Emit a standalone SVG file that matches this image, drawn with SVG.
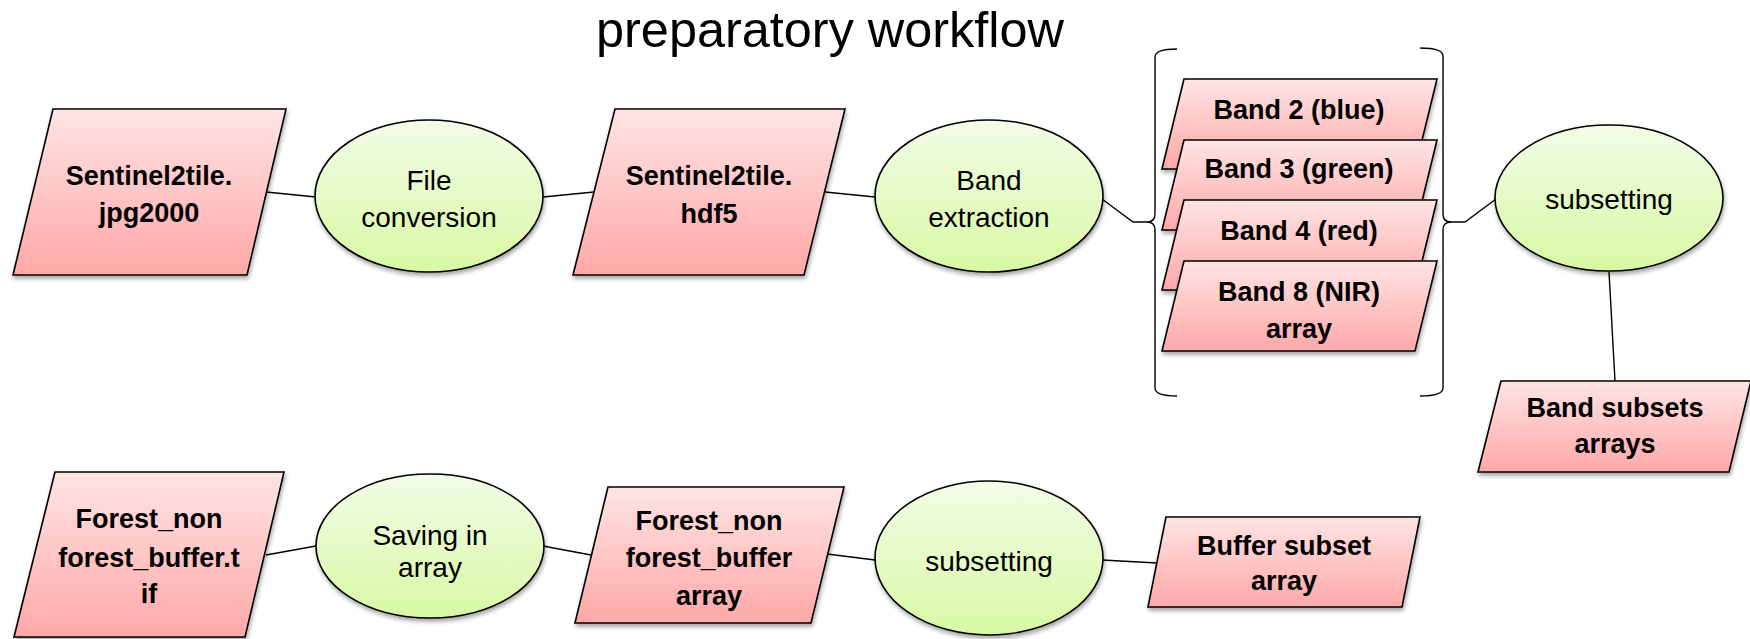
<svg xmlns="http://www.w3.org/2000/svg" width="1750" height="639" viewBox="0 0 1750 639">
<defs>
<linearGradient id="gp" x1="0" y1="0" x2="0" y2="1">
<stop offset="0" stop-color="#FFE4E4"/>
<stop offset="1" stop-color="#FFA8A8"/>
</linearGradient>
<linearGradient id="ge" x1="0" y1="0" x2="0" y2="1">
<stop offset="0" stop-color="#F3FDE8"/>
<stop offset="1" stop-color="#D8F8A4"/>
</linearGradient>
<filter id="sh" x="-10%" y="-10%" width="120%" height="130%">
<feDropShadow dx="1" dy="3" stdDeviation="2" flood-color="#000" flood-opacity="0.35"/>
</filter>
</defs>
<style>
.p{fill:url(#gp);stroke:#000;stroke-width:1.6;filter:url(#sh)}
.e{fill:url(#ge);stroke:#000;stroke-width:1.6;filter:url(#sh)}
.b{font-family:"Liberation Sans",Arial,sans-serif;font-weight:bold;font-size:27px;text-anchor:middle;fill:#000}
.r{font-family:"Liberation Sans",Arial,sans-serif;font-size:28px;text-anchor:middle;fill:#000}
.c{fill:none;stroke:#000;stroke-width:1.4}
.t{font-family:"Liberation Sans",Arial,sans-serif;font-size:50px;text-anchor:middle;fill:#000}
</style>
<text class="t" x="830" y="47" textLength="468" lengthAdjust="spacingAndGlyphs">preparatory workflow</text>
<g id="connectors">
<line class="c" x1="266" y1="192" x2="316" y2="197"/>
<line class="c" x1="543" y1="197" x2="594" y2="192"/>
<line class="c" x1="825" y1="192" x2="875" y2="197"/>
<polyline class="c" points="1102,199 1133,222 1147,222"/>
<polyline class="c" points="1450,222 1465,222 1496,199"/>
<line class="c" x1="1609" y1="272" x2="1615" y2="381"/>
<line class="c" x1="266" y1="555" x2="316" y2="546"/>
<line class="c" x1="543" y1="546" x2="591" y2="555"/>
<line class="c" x1="827" y1="554" x2="875" y2="560"/>
<line class="c" x1="1102" y1="560" x2="1157" y2="563"/>
</g>
<g id="brackets">
<path class="c" d="M1177,49 Q1155,49 1155,57 V214 Q1155,222 1147,222 Q1155,222 1155,230 V388 Q1155,396 1177,396"/>
<path class="c" d="M1420,48 Q1443,48 1443,56 V214 Q1443,222 1451,222 Q1443,222 1443,230 V388 Q1443,396 1420,396"/>
</g>
<g id="sentinel-jpg">
<polygon class="p" points="53,109 286,109 247,275 13,275"/>
<text class="b" x="149" y="185">Sentinel2tile.</text>
<text class="b" x="149" y="222">jpg2000</text>
</g>
<g id="file-conversion">
<ellipse class="e" cx="429" cy="196" rx="114" ry="76"/>
<text class="r" x="429" y="190">File</text>
<text class="r" x="429" y="227">conversion</text>
</g>
<g id="sentinel-hdf5">
<polygon class="p" points="615,109 845,109 804,275 573,275"/>
<text class="b" x="709" y="185">Sentinel2tile.</text>
<text class="b" x="709" y="223">hdf5</text>
</g>
<g id="band-extraction">
<ellipse class="e" cx="989" cy="196" rx="114" ry="76"/>
<text class="r" x="989" y="190">Band</text>
<text class="r" x="989" y="227">extraction</text>
</g>
<g id="band2">
<polygon class="p" points="1184,79 1437,79 1415,169 1162,169"/>
<text class="b" x="1299" y="119">Band 2 (blue)</text>
</g>
<g id="band3">
<polygon class="p" points="1184,140 1437,140 1415,230 1162,230"/>
<text class="b" x="1299" y="178">Band 3 (green)</text>
</g>
<g id="band4">
<polygon class="p" points="1184,200 1437,200 1415,290 1162,290"/>
<text class="b" x="1299" y="240">Band 4 (red)</text>
</g>
<g id="band8">
<polygon class="p" points="1184,261 1437,261 1415,351 1162,351"/>
<text class="b" x="1299" y="301">Band 8 (NIR)</text>
<text class="b" x="1299" y="338">array</text>
</g>
<g id="subsetting-top">
<ellipse class="e" cx="1609" cy="198" rx="114" ry="73"/>
<text class="r" x="1609" y="209">subsetting</text>
</g>
<g id="band-subsets">
<polygon class="p" points="1501,381 1751,381 1729,472 1478,472"/>
<text class="b" x="1615" y="417">Band subsets</text>
<text class="b" x="1615" y="453">arrays</text>
</g>
<g id="forest-tif">
<polygon class="p" points="55,472 284,472 245,637 14,637"/>
<text class="b" x="149" y="528">Forest_non</text>
<text class="b" x="149" y="567">forest_buffer.t</text>
<text class="b" x="149" y="603">if</text>
</g>
<g id="saving-in-array">
<ellipse class="e" cx="430" cy="546" rx="114" ry="72"/>
<text class="r" x="430" y="545">Saving in</text>
<text class="r" x="430" y="577">array</text>
</g>
<g id="forest-array">
<polygon class="p" points="608,487 844,487 811,623 575,623"/>
<text class="b" x="709" y="530">Forest_non</text>
<text class="b" x="709" y="567">forest_buffer</text>
<text class="b" x="709" y="605">array</text>
</g>
<g id="subsetting-bottom">
<ellipse class="e" cx="989" cy="558" rx="114" ry="77"/>
<text class="r" x="989" y="571">subsetting</text>
</g>
<g id="buffer-subset">
<polygon class="p" points="1166,517 1420,517 1402,607 1148,607"/>
<text class="b" x="1284" y="555">Buffer subset</text>
<text class="b" x="1284" y="590">array</text>
</g>
</svg>
